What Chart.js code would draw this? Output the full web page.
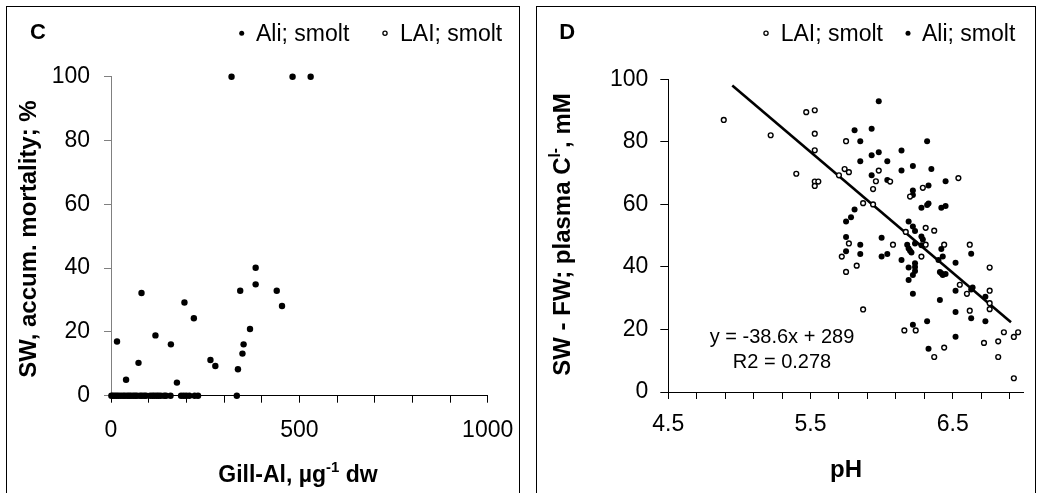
<!DOCTYPE html>
<html>
<head>
<meta charset="utf-8">
<script src="https://cdn.jsdelivr.net/npm/chart.js@4.4.0/dist/chart.umd.min.js"></script>
<style>
  html, body { margin: 0; padding: 0; background: #fff; }
  body { width: 1048px; height: 493px; overflow: hidden; position: relative; }
  .panel { position: absolute; top: 6px; height: 500px; border: 1px solid #000; }
  #panelC { left: 6px; width: 512px; }
  #panelD { left: 536px; width: 498px; }
  canvas { display: block; }
</style>
</head>
<body>
<div class="panel" id="panelC"><canvas id="chartC" width="512" height="486"></canvas></div>
<div class="panel" id="panelD"><canvas id="chartD" width="498" height="486"></canvas></div>
<script>
// ---- panel C: gill Al vs accumulated SW mortality ----
var gillAl = [1, 5, 10, 15, 20, 26, 32, 37, 43, 48, 53, 59, 64, 69, 77, 82, 88, 93,
  104, 110, 115, 121, 126, 132, 141, 146, 158, 186, 193, 200, 208, 222, 231, 334,
  16, 40, 73, 81, 118, 159, 175, 195, 220, 264, 277, 320, 337, 343, 349, 352, 369,
  384, 384, 440, 454, 482, 530];
var mortality = [0, 0, 0, 0, 0, 0, 0, 0, 0, 0, 0, 0, 0, 0, 0, 0, 0, 0,
  0, 0, 0, 0, 0, 0, 0, 0, 0, 0, 0, 0, 0, 0, 0, 0,
  17, 5, 10.3, 32.2, 18.9, 16.1, 4.1, 29.2, 24.3, 11.2, 9.3, 100, 8.3, 32.9, 13.2, 16.1, 20.9,
  40.1, 34.9, 32.9, 28.1, 100, 100];
var gillAlLAI = [];
var mortalityLAI = [];
var gillTickLabels = [0, 500, 1000];

// ---- panel D: pH vs SW - FW plasma Cl ----
var phLAI = [4.89, 5.22, 5.40, 5.47, 5.53, 5.53, 5.53, 5.53, 5.555, 5.53, 5.75, 5.70, 5.74, 5.77,
  5.98, 5.96, 5.94, 5.87, 5.94, 5.77, 5.72, 5.75, 5.825, 5.87, 6.06, 6.29, 6.20, 6.54, 6.31,
  6.37, 6.17, 6.08, 6.28, 6.31, 6.44, 6.62, 6.76, 6.55, 6.60, 6.76, 6.76, 6.76, 6.62, 6.16,
  6.24, 6.44, 6.37, 6.72, 6.82, 6.82, 6.86, 6.93, 6.96, 6.93];
var clLAI = [87.0, 82.1, 69.8, 89.5, 90.1, 82.6, 77.3, 67.3, 67.3, 65.9, 80.2, 69.3, 71.3, 70.3,
  70.8, 67.4, 64.9, 60.4, 60.0, 47.5, 43.3, 38.4, 40.4, 26.4, 67.3, 65.3, 62.5, 68.4, 52.5,
  51.6, 51.2, 47.1, 43.3, 47.1, 47.1, 47.1, 39.8, 34.3, 31.4, 32.4, 28.4, 26.5, 26.0, 19.7,
  19.7, 14.2, 11.2, 15.7, 16.2, 11.2, 19.1, 17.6, 19.1, 4.4];
var phAli = [5.98, 5.81, 5.93, 5.85, 5.93, 5.98, 5.85, 6.04, 5.93, 6.04, 5.81, 5.785, 5.75, 5.75,
  5.75, 5.85, 5.85, 6.00, 6.00, 6.04, 6.14, 6.32, 6.14, 6.22, 6.14, 6.35, 6.45, 6.33, 6.22,
  6.22, 6.28, 6.32, 6.33, 6.42, 6.45, 6.19, 6.22, 6.235, 6.28, 6.29, 6.18, 6.19, 6.20, 6.21,
  6.235, 6.28, 6.19, 6.19, 6.235, 6.235, 6.235, 6.22, 6.22, 6.22, 6.32, 6.33, 6.42, 6.43,
  6.40, 6.41, 6.42, 6.43, 6.45, 6.41, 6.52, 6.52, 6.52, 6.52, 6.63, 6.63, 6.64, 6.63, 6.73, 6.73];
var clAli = [93.0, 83.7, 84.2, 80.2, 75.7, 76.7, 73.8, 73.8, 69.3, 67.8, 58.4, 55.9, 54.5, 49.6,
  45.0, 47.1, 44.1, 49.3, 43.3, 44.1, 42.2, 80.2, 77.2, 72.3, 70.8, 71.3, 67.4, 66.0, 64.4,
  63.0, 58.9, 59.8, 60.3, 58.9, 59.5, 54.5, 52.9, 51.5, 49.7, 48.8, 47.1, 45.9, 45.2, 44.6,
  47.5, 46.9, 39.8, 35.8, 41.2, 40.0, 38.7, 37.4, 31.4, 21.5, 22.6, 13.8, 45.7, 43.3,
  42.2, 38.4, 38.0, 37.4, 37.7, 29.4, 41.3, 32.4, 25.6, 17.7, 44.2, 32.8, 33.4, 23.6, 30.5, 22.6];
var trendPH = [4.95, 6.91];
var trendCl = [98.0, 22.3];
var phTicks = [4.5, 4.7, 4.9, 5.1, 5.3, 5.5, 5.7, 5.9, 6.1, 6.3, 6.5, 6.7, 6.9];
var phTickLabels = [4.5, 5.5, 6.5];
var yTicks = [0, 20, 40, 60, 80, 100];

var FONT = "'Liberation Sans', Arial, sans-serif";

function pts(xs, ys) {
  return xs.map(function (x, i) { return {x: x, y: ys[i]}; });
}

// text with superscripts, centred on (x, y) baseline, optional rotation
function drawRich(ctx, parts, size, x, y, angle) {
  ctx.save();
  ctx.translate(x, y);
  ctx.rotate(angle || 0);
  ctx.fillStyle = '#000';
  ctx.textAlign = 'left';
  ctx.textBaseline = 'alphabetic';
  var widths = [], total = 0;
  parts.forEach(function (p) {
    ctx.font = 'bold ' + (p[1] ? size * 0.65 : size) + 'px ' + FONT;
    var w = ctx.measureText(p[0]).width;
    widths.push(w); total += w;
  });
  var cx = -total / 2;
  parts.forEach(function (p, i) {
    ctx.font = 'bold ' + (p[1] ? size * 0.65 : size) + 'px ' + FONT;
    ctx.fillText(p[0], cx, p[1] ? -size * 0.42 : 0);
    cx += widths[i];
  });
  ctx.restore();
}

var overlay = {
  id: 'overlay',
  afterDraw: function (chart, args, o) {
    var ctx = chart.ctx;
    ctx.save();
    ctx.fillStyle = '#000';
    ctx.textBaseline = 'alphabetic';
    ctx.textAlign = 'left';
    ctx.font = 'bold 22px ' + FONT;
    ctx.fillText(o.letter, o.letterX, o.letterY);

    ctx.font = '23px ' + FONT;
    o.legend.forEach(function (it) {
      var ds = chart.data.datasets[it.ds];
      ctx.beginPath();
      ctx.arc(it.mx, it.my, it.r, 0, Math.PI * 2);
      ctx.fillStyle = ds.backgroundColor;
      ctx.fill();
      if (ds.borderWidth) {
        ctx.lineWidth = 1.3;
        ctx.strokeStyle = ds.borderColor;
        ctx.stroke();
      }
      ctx.fillStyle = '#000';
      ctx.fillText(ds.label, it.tx, it.ty);
    });

    (o.notes || []).forEach(function (n) {
      ctx.font = '20px ' + FONT;
      ctx.textAlign = 'center';
      ctx.fillText(n.text, n.x, n.y);
    });
    ctx.restore();

    drawRich(ctx, o.xTitle.parts, o.xTitle.size, o.xTitle.x, o.xTitle.y, 0);
    drawRich(ctx, o.yTitle.parts, o.yTitle.size, o.yTitle.x, o.yTitle.y, -Math.PI / 2);
  }
};

function fixBox(w, h) {
  return function (s) {
    if (w !== null) s.width = w;
    if (h !== null) s.height = h;
    s.paddingLeft = 0; s.paddingRight = 0; s.paddingTop = 0; s.paddingBottom = 0;
  };
}

function yAxis(width, tickLen, pad, color) {
  return {
    type: 'linear', min: 0, max: 100,
    afterBuildTicks: function (s) { s.ticks = yTicks.map(function (v) { return {value: v}; }); },
    ticks: {font: {family: FONT, size: 23}, color: '#000', padding: pad},
    grid: {drawOnChartArea: false, drawTicks: true, tickLength: tickLen, color: color, lineWidth: 1},
    border: {display: true, color: color, width: 1},
    afterFit: fixBox(width, null)
  };
}

var common = {
  responsive: false,
  animation: false,
  events: [],
  plugins: {legend: {display: false}, tooltip: {enabled: false}, title: {display: false}}
};

// ---------- chart C ----------
new Chart(document.getElementById('chartC').getContext('2d'), {
  type: 'scatter',
  data: {
    datasets: [{
      label: 'Ali; smolt',
      data: pts(gillAl, mortality),
      pointRadius: 3.2, backgroundColor: '#000', borderColor: '#000', borderWidth: 0, clip: false
    }, {
      label: 'LAI; smolt',
      data: pts(gillAlLAI, mortalityLAI),
      pointRadius: 2.4, backgroundColor: '#fff', borderColor: '#000', borderWidth: 1.4, clip: false
    }]
  },
  options: Object.assign({}, common, {
    layout: {padding: {left: 0, top: 69.7, right: 31.3, bottom: 0}},
    scales: {
      x: {
        type: 'linear', min: 0, max: 1000,
        ticks: {
          stepSize: 100, autoSkip: false, maxRotation: 0,
          font: {family: FONT, size: 23}, color: '#000', padding: 14,
          callback: function (v) { return gillTickLabels.indexOf(v) >= 0 ? String(v) : ''; }
        },
        grid: {drawOnChartArea: false, drawTicks: true, tickLength: 7, color: '#000', lineWidth: 1},
        border: {display: true, color: '#000', width: 1},
        afterFit: fixBox(null, 97.3)
      },
      y: yAxis(104, 7, 14, '#808080')
    },
    plugins: Object.assign({}, common.plugins, {
      overlay: {
        letter: 'C', letterX: 23, letterY: 32,
        legend: [
          {ds: 0, mx: 234.7, my: 26.3, r: 2.5, tx: 249, ty: 33.7},
          {ds: 1, mx: 378, my: 26.3, r: 2.1, tx: 393, ty: 33.7}
        ],
        xTitle: {parts: [['Gill-Al, \u00b5g', false], ['-1', true], [' dw', false]], size: 23, x: 291, y: 475},
        yTitle: {parts: [['SW, accum. mortality; %', false]], size: 24, x: 28.5, y: 232}
      }
    })
  }),
  plugins: [overlay]
});

// ---------- chart D ----------
new Chart(document.getElementById('chartD').getContext('2d'), {
  type: 'scatter',
  data: {
    datasets: [{
      label: 'LAI; smolt',
      data: pts(phLAI, clLAI),
      pointRadius: 2.4, backgroundColor: '#fff', borderColor: '#000', borderWidth: 1.4, clip: false
    }, {
      label: 'Ali; smolt',
      data: pts(phAli, clAli),
      pointRadius: 3, backgroundColor: '#000', borderColor: '#000', borderWidth: 0, clip: false
    }, {
      label: 'trend',
      data: pts(trendPH, trendCl),
      showLine: true, pointRadius: 0, borderColor: '#000', borderWidth: 2.6, clip: false
    }]
  },
  options: Object.assign({}, common, {
    layout: {padding: {left: 0, top: 72.3, right: 11.2, bottom: 0}},
    scales: {
      x: {
        type: 'linear', min: 4.5, max: 7.0,
        afterBuildTicks: function (s) { s.ticks = phTicks.map(function (v) { return {value: v}; }); },
        ticks: {
          autoSkip: false, maxRotation: 0,
          font: {family: FONT, size: 23}, color: '#000', padding: 12,
          callback: function (v) {
            var r = Math.round(v * 10) / 10;
            return phTickLabels.indexOf(r) >= 0 ? r.toFixed(1) : '';
          }
        },
        grid: {drawOnChartArea: false, drawTicks: true, tickLength: 7, color: '#000', lineWidth: 1},
        border: {display: true, color: '#000', width: 1},
        afterFit: fixBox(null, 101)
      },
      y: yAxis(131.3, 8, 12, '#000')
    },
    plugins: Object.assign({}, common.plugins, {
      overlay: {
        letter: 'D', letterX: 22.3, letterY: 32,
        legend: [
          {ds: 0, mx: 229, my: 26.3, r: 2.1, tx: 243.7, ty: 33.7},
          {ds: 1, mx: 371, my: 26.3, r: 2.5, tx: 385, ty: 33.7}
        ],
        notes: [
          {text: 'y = -38.6x + 289', x: 245, y: 335.7},
          {text: 'R2 = 0.278', x: 245, y: 361.3}
        ],
        xTitle: {parts: [['pH', false]], size: 24, x: 309, y: 470},
        yTitle: {parts: [['SW - FW; plasma C', false], ['l-', true], [', mM', false]], size: 24, x: 33, y: 227.5}
      }
    })
  }),
  plugins: [overlay]
});
</script>
</body>
</html>
